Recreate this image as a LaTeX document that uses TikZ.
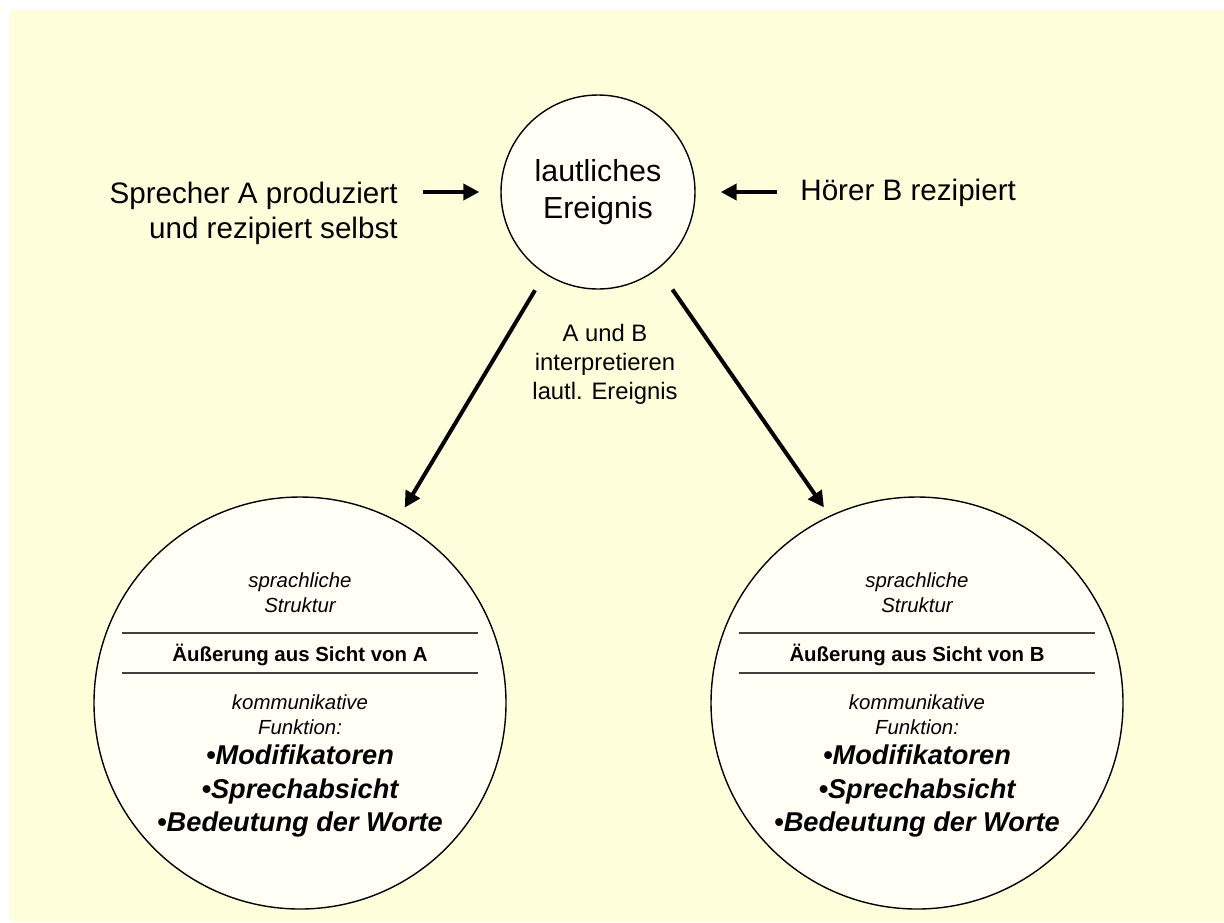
\documentclass[tikz,border=0pt]{standalone}
\usepackage{fontspec}
\setmainfont{Liberation Sans}
\usetikzlibrary{arrows.meta,positioning}
\definecolor{bgyellow}{HTML}{FFFFDC}
\definecolor{discfill}{HTML}{FFFFF6}
\definecolor{rulegray}{HTML}{404040}

\tikzset{
  disc/.style={circle, draw=black, line width=0.7pt, fill=discfill, inner sep=0pt},
  pfeil/.style={line width=2pt, -{Triangle[length=8pt,width=8pt]}},
  plain/.style={inner sep=0pt, align=center},
}

\begin{document}
\begin{tikzpicture}[x=0.5pt,y=-0.5pt]
  % background
  \useasboundingbox (0,0) rectangle (1224,922);
  \fill[bgyellow] (10,10) rectangle (1224,922);
  % sound event and the two speakers
  \node[disc, minimum size=97pt, align=center, font=\fontsize{15.2}{18.5}\selectfont] (ereignis) at (598,192) {lautliches\\Ereignis};
  \node[plain, anchor=east, align=right, font=\fontsize{14.8}{17.5}\selectfont] (sprecher) at (398,213) {Sprecher A produziert\\und rezipiert selbst};
  \node[plain, anchor=west, font=\fontsize{14.8}{17.5}\selectfont] (hoerer) at (800,193) {Hörer B rezipiert};
  \draw[pfeil, shorten <=12.5pt, shorten >=10.5pt] (sprecher.east |- ereignis) -- (ereignis);
  \draw[pfeil, shorten <=11.5pt, shorten >=12.5pt] (hoerer.west |- ereignis) -- (ereignis);
  % interpretation
  \node[plain, font=\fontsize{11.9}{14.5}\selectfont] (deutung) at (605,364) {A und B\\interpretieren\\lautl. Ereignis};
  % the two points of view
  \foreach \who/\cx in {A/300,B/917}{
    \node[disc, minimum size=206pt] (sicht\who) at (\cx,703) {};
    \draw[rulegray, line width=0.8pt] (sicht\who) ++(-178,-70) -- ++(356,0);
    \draw[rulegray, line width=0.8pt] (sicht\who) ++(-178,-30) -- ++(356,0);
    \node[plain, font=\itshape\fontsize{10.2}{12.5}\selectfont] (struktur\who) at (\cx,593) {sprachliche\\Struktur};
    \node[plain, font=\bfseries\fontsize{10.2}{12.5}\selectfont] (aeusserung\who) at (\cx,655) {Äußerung aus Sicht von \who};
    \node[plain, font=\itshape\fontsize{10.2}{12.5}\selectfont] (funktion\who) at (\cx,715) {kommunikative\\Funktion:};
    \node[plain, font=\bfseries\itshape\fontsize{13.6}{16.75}\selectfont] (liste\who) at (\cx,791) {•Modifikatoren\\•Sprechabsicht\\•Bedeutung der Worte};
  }
  \draw[pfeil, shorten <=9.5pt, shorten >=7.5pt] (ereignis.-123) -- (sichtA.62.5);
  \draw[pfeil, shorten <=12.5pt, shorten >=5pt] (ereignis.-52.7) -- (sichtB.115);
\end{tikzpicture}
\end{document}
